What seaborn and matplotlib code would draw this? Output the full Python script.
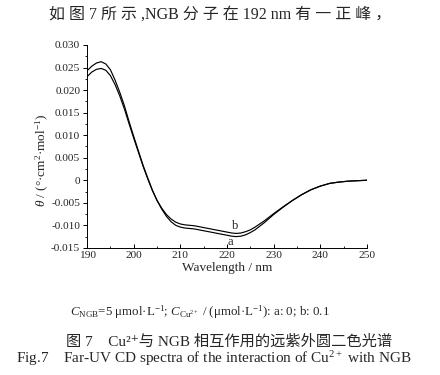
import pandas as pd
import seaborn as sns
import matplotlib.pyplot as plt
from matplotlib.ticker import MultipleLocator

# wavelength (nm) and ellipticity
wl = [190, 191, 192, 193, 194, 195, 196, 197, 198, 199, 200, 201, 202, 203, 204,
      205, 206, 207, 208, 209, 210, 211, 212, 213, 214, 215, 216, 217, 218, 219,
      220, 221, 222, 223, 224, 225, 226, 227, 228, 229, 230, 232, 234, 236, 238,
      240, 242, 244, 246, 248, 250]
theta_a = [0.0243, 0.0253, 0.0260, 0.0263, 0.0258, 0.0245, 0.0222, 0.0195, 0.0165,
           0.0130, 0.0097, 0.0065, 0.0033, 0.0005, -0.0022, -0.0045, -0.0064,
           -0.0080, -0.0092, -0.0100, -0.0104, -0.0106, -0.0107, -0.0108, -0.0110,
           -0.0112, -0.0114, -0.0116, -0.0118, -0.0120, -0.0122, -0.0124, -0.0125,
           -0.0124, -0.0121, -0.0116, -0.0110, -0.0102, -0.0094, -0.0085, -0.0076,
           -0.0060, -0.0045, -0.0032, -0.0021, -0.0013, -0.0007, -0.0004, -0.0002,
           -0.0001, 0.0]
theta_b = [0.0230, 0.0240, 0.0246, 0.0248, 0.0244, 0.0232, 0.0212, 0.0187, 0.0158,
           0.0125, 0.0093, 0.0062, 0.0031, 0.0003, -0.0023, -0.0045, -0.0062,
           -0.0076, -0.0086, -0.0093, -0.0097, -0.0099, -0.0100, -0.0101, -0.0103,
           -0.0105, -0.0107, -0.0109, -0.0111, -0.0113, -0.0115, -0.0117, -0.0118,
           -0.0117, -0.0114, -0.0110, -0.0104, -0.0097, -0.0090, -0.0082, -0.0074,
           -0.0059, -0.0045, -0.0032, -0.0021, -0.0013, -0.0007, -0.0004, -0.0002,
           -0.0001, 0.0]
x_ticks = [190, 200, 210, 220, 230, 240, 250]
y_ticks = [0.030, 0.025, 0.020, 0.015, 0.010, 0.005, 0, -0.005, -0.010, -0.015]
y_tick_labels = ['0.030', '0.025', '0.020', '0.015', '0.010', '0.005', '0',
                 '-0.005', '-0.010', '-0.015']

df = pd.DataFrame({
    'wl': wl * 2,
    'theta': theta_a + theta_b,
    'curve': ['a'] * len(wl) + ['b'] * len(wl),
})

sns.set_theme(style="ticks")
plt.rcParams['font.family'] = ['Liberation Serif', 'Noto Sans CJK SC', 'DejaVu Sans']
plt.rcParams['mathtext.fontset'] = 'custom'
plt.rcParams['mathtext.rm'] = 'Liberation Serif'
plt.rcParams['mathtext.it'] = 'Liberation Serif:italic'

fig = plt.figure(figsize=(4.4, 3.75), dpi=100)
ax = fig.add_axes([0.198, 0.339, 0.636, 0.541])

sns.lineplot(data=df, x='wl', y='theta', hue='curve',
             palette={'a': 'black', 'b': 'black'}, linewidth=0.85,
             legend=False, ax=ax)

ax.set_xlim(190, 250)
ax.set_ylim(-0.015, 0.030)
ax.set_xticks(x_ticks)
ax.set_xticklabels([str(t) for t in x_ticks])
ax.set_yticks(y_ticks)
ax.set_yticklabels(y_tick_labels)
ax.xaxis.set_minor_locator(MultipleLocator(5))
ax.yaxis.set_minor_locator(MultipleLocator(0.0025))
ax.tick_params(axis='both', which='major', labelsize=8.2, length=3, width=0.7,
               color='black', pad=2)
ax.tick_params(axis='both', which='minor', length=1.8, width=0.6, color='black')
ax.tick_params(axis='x', which='both', direction='in')
ax.tick_params(axis='y', which='both', direction='out')
for side in ['top', 'right']:
    ax.spines[side].set_visible(False)
for side in ['left', 'bottom']:
    ax.spines[side].set_linewidth(0.7)
    ax.spines[side].set_color('black')

ax.set_xlabel('Wavelength / nm', fontsize=9.5, labelpad=2)
ax.set_ylabel(r'$\theta$ / (°·cm$^{2}$·mol$^{-1}$)', fontsize=9.5)
ax.yaxis.set_label_coords(-0.128, 0.43)

ax.text(221.7, -0.0102, 'b', fontsize=9, ha='center', va='center')
ax.text(220.6, -0.0137, 'a', fontsize=9, ha='center', va='center')

fig.text(0.5, 0.962, '如 图 7 所 示 ,NGB 分 子 在 192 nm 有 一 正 峰 ，',
         fontsize=11.5, ha='center', va='center')
fig.text(0.455, 0.167,
         r'$C_{\rm NGB}$=5 μmol·L$^{-1}$; $C_{\rm Cu^{2+}}$ / (μmol·L$^{-1}$): a: 0; b: 0.1',
         fontsize=9.3, ha='center', va='center')
fig.text(0.52, 0.09, '图 7    Cu²⁺与 NGB 相互作用的远紫外圆二色光谱',
         fontsize=11, ha='center', va='center')
fig.text(0.487, 0.045, 'Fig.7    Far-UV CD spectra of the interaction of Cu$^{2+}$ with NGB',
         fontsize=11, ha='center', va='center')

fig.savefig('out.png', dpi=100)
